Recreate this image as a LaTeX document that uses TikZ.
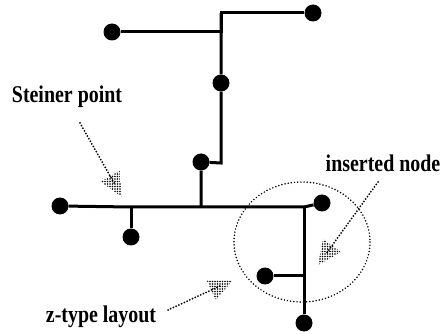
\documentclass[tikz,border=0pt]{standalone}
\usepackage{fontspec}
\newfontfamily\labelfont{Liberation Serif Bold}[FakeStretch=0.83]
\usetikzlibrary{calc,patterns.meta}

\tikzdeclarepattern{
  name=stipple,
  type=uncolored,
  bounding box={(-1.25pt,-1.25pt) and (1.25pt,1.25pt)},
  tile size={(2.5pt,2.5pt)},
  code={\fill (0pt,0pt) circle (0.85pt);}
}

\tikzset{
  wire/.style={line width=3pt},
  dot/.style={circle, fill=black, inner sep=0pt, minimum size=17pt},
  pointer/.style={line width=2pt, dash pattern=on 0pt off 3pt, line cap=round},
  dothead/.style={pattern=stipple},
  lbl/.style={font=\labelfont\fontsize{24}{26}\selectfont, inner sep=0pt}
}

% dotted pointer ending in a stippled head: #1 start, #2 tip
\newcommand{\stippledarrow}[2]{
  \draw[pointer] (#1) -- ($(#2)!14pt!(#1)$);
  \coordinate (hb) at ($(#2)!24pt!(#1)$);
  \fill[dothead] (#2) -- ($(hb)!11pt!90:(#2)$) -- ($(hb)!11pt!-90:(#2)$) -- cycle;
}

\begin{document}
\begin{tikzpicture}[x=1pt,y=-1pt]

    % Fix the size of the picture
    \useasboundingbox (0,0) rectangle (445,334);

    % Define the terminals
    \node[dot] (n1) at (112,32) {};
    \node[dot] (n2) at (313,13) {};
    \node[dot] (n3) at (221,83) {};
    \node[dot] (n4) at (201,162) {};
    \node[dot] (n5) at (60,206) {};
    \node[dot] (n6) at (322,203) {};
    \node[dot] (n7) at (131,237) {};
    \node[dot] (n8) at (304,323) {};
    \node[dot] (n9) at (265,276) {};

    % Define the bends and branch points
    \coordinate (j1) at (221,32);
    \coordinate (j2) at (221,13);
    \coordinate (j3) at (221,163);
    \coordinate (j4) at (201,207);
    \coordinate (j5) at (131,207);
    \coordinate (j6) at (304,207);
    \coordinate (j7) at (304,276);

    % Draw the tree
    \draw[wire] (n1) -- (j1) -- (j2) -- (n2);
    \draw[wire] (j2) -- (n3) -- (j3) -- (n4) -- (j4);
    \draw[wire] (n5) -- (j5) -- (j4) -- (j6) -- (n6);
    \draw[wire] (j5) -- (n7);
    \draw[wire] (j6) -- (j7) -- (n8);
    \draw[wire] (j7) -- (n9);

    % Dotted circle round the z-type part
    \coordinate (zc) at (302,242);
    \draw[pointer, line width=1.7pt, dash pattern=on 0pt off 3.2pt] (zc) ellipse (68 and 60);

    % Add the labels
    \node[lbl, anchor=base] (steiner) at (67,103) {Steiner point};
    \node[lbl, anchor=base] (inserted) at (383,172) {inserted node};
    \node[lbl, anchor=base] (ztype) at (101,322) {z-type layout};

    % Draw the pointers
    \coordinate (s1) at (80,123);
    \coordinate (s2) at (122,197);
    \coordinate (i1) at (378,182);
    \coordinate (i2) at (318,265);
    \coordinate (z1) at (168,310);
    \coordinate (z2) at (233,280);
    \stippledarrow{s1}{s2}
    \stippledarrow{i1}{i2}
    \stippledarrow{z1}{z2}

\end{tikzpicture}
\end{document}
